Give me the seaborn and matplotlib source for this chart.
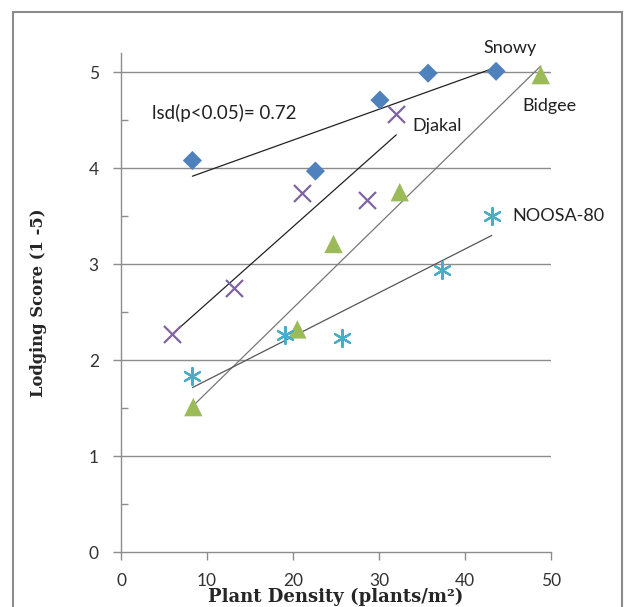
import numpy as np
import pandas as pd
import matplotlib
matplotlib.use("Agg")
from matplotlib import pyplot as plt
from matplotlib.patches import Rectangle
import seaborn as sns

# values
snowy_x = [8.3, 22.6, 30.1, 35.7, 43.6]
snowy_y = [4.08, 3.97, 4.71, 4.99, 5.01]
djakal_x = [5.9, 13.1, 21.0, 28.6, 32.0]
djakal_y = [2.27, 2.75, 3.74, 3.67, 4.57]
bidgee_x = [8.4, 20.5, 24.7, 32.4, 48.8]
bidgee_y = [1.51, 2.32, 3.21, 3.75, 4.97]
noosa_x = [8.3, 19.1, 25.7, 37.3, 43.1]
noosa_y = [1.83, 2.26, 2.23, 2.94, 3.50]

series = ["Snowy", "Djakal", "Bidgee", "NOOSA-80"]
xs = [snowy_x, djakal_x, bidgee_x, noosa_x]
ys = [snowy_y, djakal_y, bidgee_y, noosa_y]


def main():
    sns.set_style("white")
    plt.rcParams["font.family"] = ["Lato", "DejaVu Sans"]

    fig = plt.figure(figsize=(6.27, 6.07), dpi=100)
    ax = fig.add_axes([0.193, 0.0906, 0.686, 0.822])

    styles = {
        "Snowy": dict(marker="D", color="#4F81BD", s=95, line=False, lc="#222222"),
        "Djakal": dict(marker="x", color="#8064A2", s=150, line=True, lc="#222222"),
        "Bidgee": dict(marker="^", color="#9BBB59", s=175, line=False, lc="#777777"),
        "NOOSA-80": dict(marker=(6, 2, 0), color="#4BACC6", s=150, line=True, lc="#555555"),
    }

    for name, x, y in zip(series, xs, ys):
        df = pd.DataFrame({"x": x, "y": y})
        st = styles[name]
        sns.regplot(data=df, x="x", y="y", scatter=False, ci=None, ax=ax,
                    line_kws=dict(color=st["lc"], lw=0.9, zorder=2))
        if st["line"]:
            sns.scatterplot(data=df, x="x", y="y", marker=st["marker"],
                            color=st["color"], s=st["s"], linewidth=1.6,
                            ax=ax, zorder=3)
        else:
            sns.scatterplot(data=df, x="x", y="y", marker=st["marker"],
                            color=st["color"], s=st["s"], edgecolor="none",
                            ax=ax, zorder=3)

    ax.set_xlim(0, 50)
    ax.set_ylim(0, 5.2)
    ax.set_xticks(range(0, 51, 10))
    ax.set_yticks(range(0, 6))
    ax.set_yticks(np.arange(0.5, 5, 1.0), minor=True)
    ax.grid(False)
    for yv in range(1, 6):
        ax.plot([0, 50], [yv, yv], color="#8c8c8c", lw=1, zorder=1)

    sns.despine(ax=ax)
    for sp in ["left", "bottom"]:
        ax.spines[sp].set_color("#8c8c8c")
        ax.spines[sp].set_linewidth(1)
    ax.tick_params(axis="both", which="major", direction="out", length=6,
                   width=1, color="#8c8c8c", labelsize=12.5, labelcolor="#333333",
                   left=True, bottom=True)
    ax.tick_params(axis="y", which="minor", direction="in", length=5,
                   width=1, color="#8c8c8c", left=True)
    ax.tick_params(axis="y", pad=10)
    ax.tick_params(axis="x", pad=9)

    ax.set_xlabel("Plant Density (plants/m²)", family="DejaVu Serif",
                  fontweight="bold", fontsize=13, labelpad=-1)
    ax.set_ylabel("Lodging Score (1 -5)", family="DejaVu Serif",
                  fontweight="bold", fontsize=11.8)
    ax.yaxis.set_label_coords(-0.172, 0.5)

    tk = dict(fontsize=13, color="#222222")
    ax.text(45.2, 5.25, "Snowy", ha="center", va="center", **tk)
    ax.text(49.8, 4.65, "Bidgee", ha="center", va="center", **tk)
    ax.text(36.7, 4.44, "Djakal", ha="center", va="center", **tk)
    ax.text(45.5, 3.50, "NOOSA-80", ha="left", va="center", **tk)
    ax.text(3.6, 4.58, "lsd(p<0.05)= 0.72", ha="left", va="center",
            fontsize=13.5, color="#222222")

    fig.patches.append(Rectangle((0.021, -0.05), 0.971, 1.03, transform=fig.transFigure,
                                 fill=False, edgecolor="#8c8c8c", lw=1.5))

    fig.savefig("out.png", dpi=100)


if __name__ == '__main__':
    main()
